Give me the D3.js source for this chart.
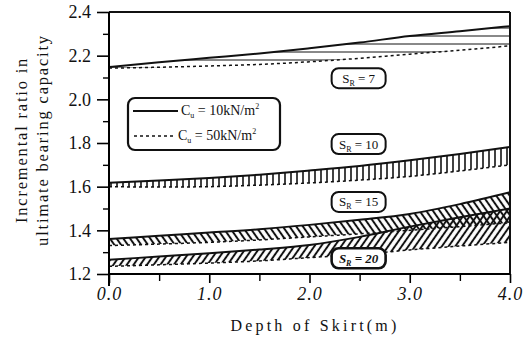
<!DOCTYPE html>
<html><head><meta charset="utf-8">
<script src="https://cdn.jsdelivr.net/npm/d3@7"></script>
<style>
html,body{margin:0;padding:0;background:#fff;}
svg{display:block;}
text{font-family:"Liberation Serif","DejaVu Serif",serif;fill:#111;}
</style></head>
<body>
<svg id="c" width="527" height="338"></svg>
<script>
// ---- data ----
const depth = [0, 0.5, 1, 1.5, 2, 2.5, 3, 3.5, 4];
const sr7_cu10  = [2.148, 2.170, 2.190, 2.210, 2.234, 2.260, 2.290, 2.312, 2.335];
const sr7_cu50  = [2.143, 2.147, 2.153, 2.160, 2.172, 2.188, 2.207, 2.225, 2.245];
const sr10_cu10 = [1.618, 1.628, 1.640, 1.655, 1.674, 1.695, 1.721, 1.750, 1.782];
const sr10_cu50 = [1.600, 1.598, 1.600, 1.607, 1.617, 1.630, 1.647, 1.672, 1.700];
const sr15_cu10 = [1.360, 1.375, 1.390, 1.405, 1.425, 1.448, 1.475, 1.520, 1.574];
const sr15_cu50 = [1.330, 1.337, 1.345, 1.356, 1.370, 1.384, 1.400, 1.417, 1.435];
const sr20_cu10 = [1.265, 1.280, 1.295, 1.312, 1.333, 1.370, 1.417, 1.460, 1.500];
const sr20_cu50 = [1.235, 1.242, 1.250, 1.260, 1.275, 1.290, 1.310, 1.328, 1.345];
const xTicks = [0, 1, 2, 3, 4];
const xMinor = [0.5, 1.5, 2.5, 3.5];
const yTicks = [1.2, 1.4, 1.6, 1.8, 2.0, 2.2, 2.4];
const yMinor = [1.3, 1.5, 1.7, 1.9, 2.1, 2.3];
const bandNames = ["7", "10", "15", "20"];
const legendLabels = ["10kN/m", "50kN/m"];

const svg = d3.select("#c");
const x = d3.scaleLinear().domain([0, 4]).range([109, 510]);
const y = d3.scaleLinear().domain([1.2, 2.4]).range([274, 12]);

// patterns
const defs = svg.append("defs");
function pat(id, angle, size, sw) {
  const p = defs.append("pattern").attr("id", id).attr("patternUnits", "userSpaceOnUse")
    .attr("width", size).attr("height", size).attr("patternTransform", `rotate(${angle})`);
  p.append("line").attr("x1", size/2).attr("y1", -1).attr("x2", size/2).attr("y2", size+1)
    .attr("stroke", "#111").attr("stroke-width", sw);
}
pat("hH", 90, 8, 1.0);
pat("hV", 0, 6, 1.6);
pat("hB", -35, 5.5, 2.0);
pat("hS", 35, 5.5, 2.0);

const bands = [
  {name: bandNames[0], top: sr7_cu10, bot: sr7_cu50, fill: "url(#hH)"},
  {name: bandNames[1], top: sr10_cu10, bot: sr10_cu50, fill: "url(#hV)"},
  {name: bandNames[2], top: sr15_cu10, bot: sr15_cu50, fill: "url(#hB)"},
  {name: bandNames[3], top: sr20_cu10, bot: sr20_cu50, fill: "url(#hS)"}
];
const curve = d3.curveMonotoneX;
const area = d3.area().x((d,i)=>x(depth[i])).y0(d=>y(d[1])).y1(d=>y(d[0])).curve(curve);
const line = d3.line().x((d,i)=>x(depth[i])).y(d=>y(d)).curve(curve);

const g = svg.append("g");
bands.slice().reverse().forEach(b => {
  const pts = b.top.map((v,i)=>[v, b.bot[i]]);
  g.append("path").attr("d", area(pts)).attr("fill", b.fill);
});
bands.forEach(b => {
  g.append("path").attr("d", line(b.top)).attr("fill","none").attr("stroke","#111").attr("stroke-width",2);
  g.append("path").attr("d", line(b.bot)).attr("fill","none").attr("stroke","#111").attr("stroke-width",1.5).attr("stroke-dasharray","3,3");
});

// frame
svg.append("line").attr("x1", x(0)).attr("x2", x(4)).attr("y1", y(2.4)).attr("y2", y(2.4)).attr("stroke","#111").attr("stroke-width",2);
svg.append("line").attr("x1", x(4)).attr("x2", x(4)).attr("y1", y(2.4)).attr("y2", y(1.2)).attr("stroke","#111").attr("stroke-width",2);

// axes
const ax = svg.append("g").attr("transform", `translate(${x(0)},0)`)
  .call(d3.axisLeft(y).tickValues(yTicks).tickSize(12).tickPadding(6).tickFormat(d3.format(".1f")));
ax.attr("font-family", null);
ax.select(".domain").attr("stroke-width",2).attr("d", `M0,${y(2.4)}V${y(1.2)+12}`);
ax.selectAll(".tick line").attr("stroke-width",1.6);
ax.selectAll("text").style("font-size","18px").style("font-family","'Liberation Serif',serif").attr("fill","#111");
const axm = svg.append("g").attr("transform", `translate(${x(0)},0)`)
  .call(d3.axisLeft(y).tickValues(yMinor).tickSize(6).tickFormat(""));
axm.select(".domain").remove();
axm.selectAll(".tick line").attr("stroke-width",1.4);

const bx = svg.append("g").attr("transform", `translate(0,${y(1.2)})`)
  .call(d3.axisBottom(x).tickValues(xTicks).tickSize(9).tickPadding(4).tickFormat(d3.format(".1f")));
bx.attr("font-family", null);
bx.select(".domain").attr("stroke-width",2).attr("d", `M${x(0)},0H${x(4)}`);
bx.selectAll(".tick line").attr("stroke-width",1.6);
bx.selectAll("text").style("font-size","18px").style("font-style","italic").style("letter-spacing","1px")
  .style("font-family","'Liberation Serif',serif").attr("fill","#111");
const bxm = svg.append("g").attr("transform", `translate(0,${y(1.2)})`)
  .call(d3.axisBottom(x).tickValues(xMinor).tickSize(7).tickFormat(""));
bxm.select(".domain").remove();
bxm.selectAll(".tick line").attr("stroke-width",1.4);

// axis titles
svg.append("text").attr("x", 315).attr("y", 331).attr("text-anchor","middle")
  .style("font-size","16px").style("letter-spacing","3.2px").text("Depth of Skirt(m)");
const yt = svg.append("text").attr("transform","translate(27,140) rotate(-90)").attr("text-anchor","middle")
  .style("font-size","16.5px").style("letter-spacing","1.8px");
yt.append("tspan").attr("x",0).attr("y",0).text("Incremental ratio in");
yt.append("tspan").attr("x",0).attr("y",21).text("ultimate bearing capacity");

// legend
const lg = svg.append("g");
lg.append("rect").attr("x",128).attr("y",98).attr("width",152).attr("height",52).attr("rx",7)
  .attr("fill","#fff").attr("stroke","#111").attr("stroke-width",2.2);
lg.append("line").attr("x1",133).attr("x2",178).attr("y1",111).attr("y2",111).attr("stroke","#111").attr("stroke-width",2);
lg.append("line").attr("x1",134).attr("x2",174).attr("y1",136).attr("y2",136).attr("stroke","#111").attr("stroke-width",1.5).attr("stroke-dasharray","3,3");
[[legendLabels[0],115,181],[legendLabels[1],140,178]].forEach(([t,yy,xx])=>{
  const tx = lg.append("text").attr("x",xx).attr("y",yy).style("font-size","14px");
  tx.append("tspan").text("C");
  tx.append("tspan").attr("dy",3).style("font-size","8px").text("u");
  tx.append("tspan").attr("dy",-3).text(" = " + t);
  tx.append("tspan").attr("dy",-6).style("font-size","8px").text("2");
});

// band labels
const labelPos = [[2.5, 2.097], [2.5, 1.795], [2.5, 1.53], [2.5, 1.272]];
bands.forEach((b,i)=>{
  const cx = x(labelPos[i][0]) - 1, cy = y(labelPos[i][1]);
  const bold = i === 3;
  svg.append("rect").attr("x", cx-27).attr("y", cy-10).attr("width",54).attr("height",20).attr("rx",7)
    .attr("fill","#fff").attr("stroke","#111").attr("stroke-width", bold ? 2.6 : 2);
  const t = svg.append("text").attr("x", cx).attr("y", cy+4.5).attr("text-anchor","middle")
    .style("font-size","13px").style("font-weight", bold ? "bold" : "normal").style("font-style", bold ? "italic" : "normal");
  t.append("tspan").text("S");
  t.append("tspan").attr("dy",3).style("font-size","8px").text("R");
  t.append("tspan").attr("dy",-3).text(" = " + b.name);
});
</script>
</body></html>
